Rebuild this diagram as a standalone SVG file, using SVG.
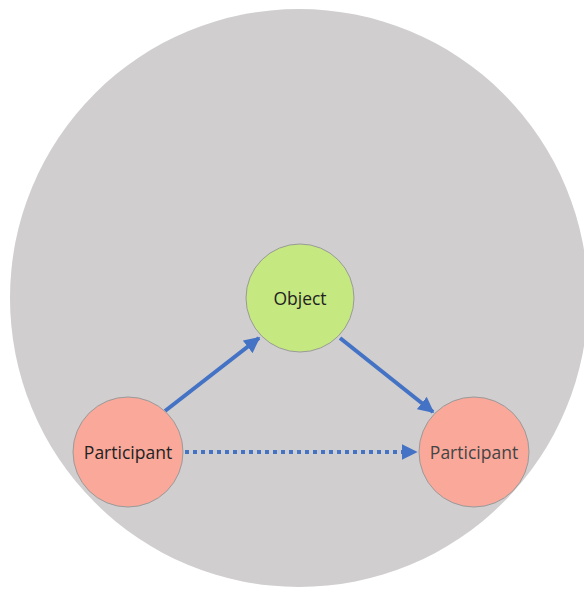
<svg xmlns="http://www.w3.org/2000/svg" width="584" height="590" viewBox="0 0 584 590">
<defs>
<style>
.node{stroke:#9a9a9a;stroke-width:1}
.lbl{font-family:"Open Sans","DejaVu Sans",sans-serif;font-size:17.5px;text-anchor:middle;dominant-baseline:central;fill:#222}
.edge{stroke:#4472c4;stroke-width:4;fill:none}
</style>
<marker id="ah" viewBox="0 0 10 10" refX="9" refY="5" markerWidth="4" markerHeight="4" orient="auto" markerUnits="strokeWidth">
<path d="M0,0 L10,5 L0,10 z" fill="#4472c4"/>
</marker>
</defs>
<rect width="584" height="590" fill="#fff"/>
<circle id="boundary" cx="299" cy="298" r="289" fill="#d0cecf"/>
<g id="connectors">
<line class="edge" x1="165" y1="411" x2="259" y2="338" marker-end="url(#ah)"/>
<line class="edge" x1="340" y1="338" x2="433" y2="412" marker-end="url(#ah)"/>
<line class="edge" x1="185" y1="452" x2="416" y2="452" stroke-dasharray="4,4" marker-end="url(#ah)"/>
</g>
<g id="object">
<circle class="node" cx="300" cy="298" r="54" fill="#c5e880"/>
<text class="lbl" x="300" y="298">Object</text>
</g>
<g id="participant-left">
<circle class="node" cx="128" cy="452" r="55" fill="#f9a89a"/>
<text class="lbl" x="128" y="452">Participant</text>
</g>
<g id="participant-right">
<circle class="node" cx="474" cy="452" r="55" fill="#f9a89a"/>
<text class="lbl" x="474" y="452" style="fill:#444">Participant</text>
</g>
</svg>
